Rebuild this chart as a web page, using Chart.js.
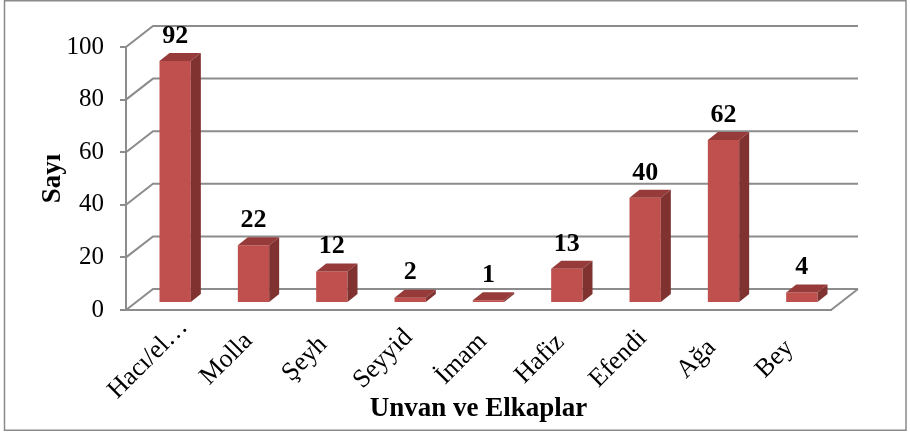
<!DOCTYPE html>
<html><head><meta charset="utf-8">
<script src="https://cdn.jsdelivr.net/npm/chart.js@4.4.1/dist/chart.umd.min.js"></script>
<style>html,body{margin:0;padding:0;background:#fff;}</style>
</head><body>
<canvas id="c" width="910" height="432" style="display:block;width:910px;height:432px"></canvas>
<script>
const categories = ['Hacı/el…', 'Molla', 'Şeyh', 'Seyyid', 'İmam', 'Hafiz', 'Efendi', 'Ağa', 'Bey'];
const values = [92, 22, 12, 2, 1, 13, 40, 62, 4];
const yTicks = [0, 20, 40, 60, 80, 100];
const xTitle = 'Unvan ve Elkaplar';
const yTitle = 'Sayı';

const GRID = '#8c8c8c';
const FRONT = '#C0504D';
const TOP = '#963B39';
const SIDE = '#7F3230';
const WALL = { dx: 27, dy: -21 };     // depth of back wall
const BARPOS = { dx: 10, dy: -7 };    // bars sit slightly behind the front plane
const BARDEPTH = { dx: 10, dy: -8 };  // depth of each bar
const LABEL = { dx: -17, y: 359 };    // centre of rotated category labels
const SERIF = "'Liberation Serif', 'Times New Roman', serif";

const frame3d = {
  id: 'frame3d',
  beforeDraw(chart) {
    const ctx = chart.ctx;
    ctx.save();
    ctx.fillStyle = '#fff';
    ctx.fillRect(0, 0, chart.width, chart.height);
    ctx.strokeStyle = '#8a8a8a';
    ctx.lineWidth = 1.5;
    ctx.strokeRect(4.5, 0.75, 901.5, 429.5);
    ctx.restore();
  },
  beforeDatasetsDraw(chart) {
    const { ctx, chartArea: { left, right }, scales: { y } } = chart;
    ctx.save();
    ctx.strokeStyle = GRID;
    ctx.lineWidth = 2;
    yTicks.forEach(v => {
      const py = y.getPixelForValue(v);
      ctx.beginPath();
      ctx.moveTo(left, py);
      ctx.lineTo(left + WALL.dx, py + WALL.dy);
      ctx.lineTo(right + WALL.dx, py + WALL.dy);
      ctx.stroke();
    });
    const p0 = y.getPixelForValue(0);
    ctx.beginPath();
    ctx.moveTo(right, p0);
    ctx.lineTo(right + WALL.dx, p0 + WALL.dy);
    ctx.stroke();
    ctx.restore();
    ctx.save();
    ctx.translate(BARPOS.dx, BARPOS.dy);
  },
  afterDatasetsDraw(chart) {
    const ctx = chart.ctx;
    const meta = chart.getDatasetMeta(0);
    meta.data.forEach((bar, i) => {
      const { x, y, base, width } = bar.getProps(['x', 'y', 'base', 'width'], true);
      const l = x - width / 2, r = x + width / 2;
      ctx.fillStyle = TOP;
      ctx.beginPath();
      ctx.moveTo(l, y); ctx.lineTo(l + BARDEPTH.dx, y + BARDEPTH.dy);
      ctx.lineTo(r + BARDEPTH.dx, y + BARDEPTH.dy); ctx.lineTo(r, y);
      ctx.closePath(); ctx.fill();
      ctx.fillStyle = SIDE;
      ctx.beginPath();
      ctx.moveTo(r, y); ctx.lineTo(r + BARDEPTH.dx, y + BARDEPTH.dy);
      ctx.lineTo(r + BARDEPTH.dx, base + BARDEPTH.dy); ctx.lineTo(r, base);
      ctx.closePath(); ctx.fill();
      ctx.fillStyle = '#000';
      ctx.font = "bold 26px " + SERIF;
      ctx.textAlign = 'center';
      ctx.textBaseline = 'middle';
      ctx.fillText(String(values[i]), x, y - 25);
    });
    ctx.restore();
  },
  afterDraw(chart) {
    const ctx = chart.ctx;
    const xs = chart.scales.x;
    ctx.save();
    ctx.fillStyle = '#000';
    ctx.font = "26px " + SERIF;
    ctx.textAlign = 'center';
    ctx.textBaseline = 'middle';
    categories.forEach((c, i) => {
      const px = xs.getPixelForTick(i);
      ctx.save();
      ctx.translate(px + LABEL.dx, LABEL.y);
      ctx.rotate(-Math.PI / 4);
      ctx.fillText(c, 0, 0);
      ctx.restore();
    });
    ctx.restore();
  }
};

new Chart(document.getElementById('c'), {
  type: 'bar',
  data: {
    labels: categories,
    datasets: [{
      data: values,
      backgroundColor: FRONT,
      borderWidth: 0,
      barPercentage: 0.4,
      categoryPercentage: 1.0
    }]
  },
  options: {
    responsive: false,
    devicePixelRatio: 1,
    animation: false,
    layout: { padding: { left: 0, top: 47, right: 79, bottom: 0 } },
    plugins: { legend: { display: false }, tooltip: { enabled: false } },
    scales: {
      x: {
        offset: true,
        grid: { display: false, drawTicks: false },
        border: { display: true, color: GRID, width: 2 },
        ticks: { display: false, autoSkip: false },
        title: {
          display: true, text: xTitle, color: '#000',
          font: { family: SERIF, size: 27, weight: 'bold' },
          padding: { top: 0, bottom: 7 }
        },
        afterFit(scale) { scale.height = 122; }
      },
      y: {
        min: 0, max: 100,
        afterBuildTicks(scale) { scale.ticks = yTicks.map(v => ({ value: v })); },
        grid: { display: true, drawOnChartArea: false, drawTicks: true, tickLength: 6, color: GRID, lineWidth: 2 },
        border: { display: true, color: GRID, width: 2 },
        ticks: { padding: 16, color: '#000', font: { family: SERIF, size: 25 } },
        title: {
          display: true, text: yTitle, color: '#000',
          font: { family: SERIF, size: 27, weight: 'bold' },
          padding: { top: 37, bottom: 0 }
        },
        afterFit(scale) { scale.width = 126; }
      }
    }
  },
  plugins: [frame3d]
});
</script>
</body></html>
